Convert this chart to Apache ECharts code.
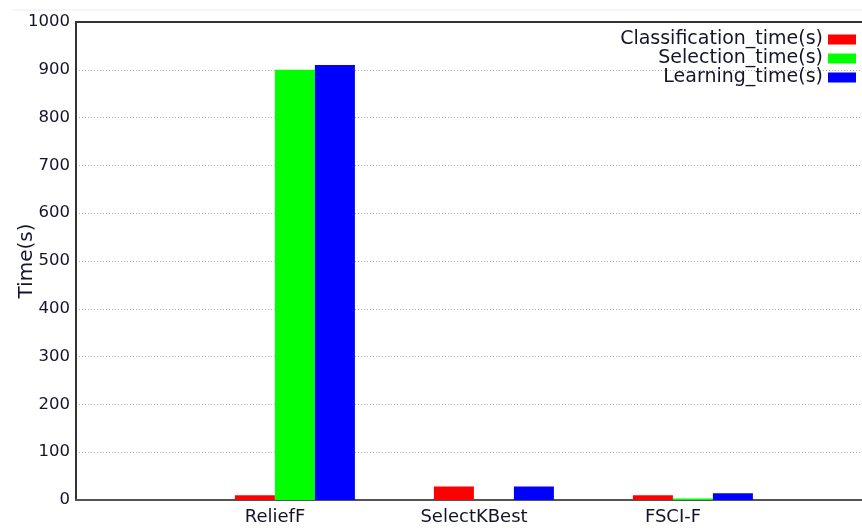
<!DOCTYPE html>
<html>
<head>
<meta charset="utf-8">
<script src="https://cdn.jsdelivr.net/npm/echarts@6/dist/echarts.min.js"></script>
<style>
  html, body { margin: 0; padding: 0; background: #fff; }
  #chart { width: 862px; height: 529px; }
</style>
</head>
<body>
<div id="chart"></div>
<script>
// methods on the x axis (placed at x = 1, 2, 3)
const methods = ['ReliefF', 'SelectKBest', 'FSCI-F'];
const seriesNames = ['Classification_time(s)', 'Selection_time(s)', 'Learning_time(s)'];
const classificationTime = [10, 28, 10];
const selectionTime = [900, 0, 3];
const learningTime = [910, 28, 14];
const yTicks = [0, 100, 200, 300, 400, 500, 600, 700, 800, 900, 1000];

const colors = ['#ff0000', '#00ff00', '#0000ff'];
const textColor = '#14142a';
const font = 'DejaVu Sans';

const toPoints = vals => vals.map((v, i) => [i + 1, v]);

const chart = echarts.init(document.getElementById('chart'));

const barSeries = [classificationTime, selectionTime, learningTime].map((vals, i) => ({
  name: seriesNames[i],
  type: 'bar',
  xAxisIndex: 1,
  data: toPoints(vals),
  barWidth: 40,
  barGap: '0%',
  itemStyle: { color: colors[i] },
  emphasis: { disabled: true },
  silent: true,
}));

const option = {
  backgroundColor: '#ffffff',
  animation: false,
  color: colors,
  textStyle: { fontFamily: font, color: textColor },
  grid: {
    left: 76,
    top: 22,
    right: -10,
    bottom: 29,
    outerBoundsMode: 'none',
    containLabel: false,
    show: true,
    borderWidth: 0,
    backgroundColor: '#ffffff',
  },
  legend: {
    orient: 'vertical',
    right: 1,
    top: 25,
    align: 'right',
    icon: 'rect',
    itemWidth: 28,
    itemHeight: 10,
    itemGap: 0,
    selectedMode: false,
    textStyle: { fontFamily: font, fontSize: 19, color: textColor },
    data: seriesNames,
  },
  xAxis: [
    {
      type: 'value',
      min: 0,
      max: 4,
      interval: 1,
      axisLine: { show: true, onZero: false, lineStyle: { color: '#555', width: 2 } },
      axisTick: { show: false },
      splitLine: { show: false },
      axisLabel: {
        fontFamily: font,
        fontSize: 18,
        color: textColor,
        margin: 8,
        formatter: v => methods[v - 1] || '',
      },
    },
    {
      // same scale as the label axis, shifted so each group starts at its tick
      type: 'value',
      min: -0.1,
      max: 3.9,
      show: false,
    },
    {
      // top frame line
      type: 'value',
      position: 'top',
      min: 0,
      max: 4,
      axisLine: { show: true, lineStyle: { color: '#333', width: 2 } },
      axisTick: { show: false },
      axisLabel: { show: false },
      splitLine: { show: false },
    },
  ],
  yAxis: {
    type: 'value',
    min: yTicks[0],
    max: yTicks[yTicks.length - 1],
    interval: 100,
    name: 'Time(s)',
    nameLocation: 'middle',
    nameRotate: 90,
    nameGap: 39,
    nameMoveOverlap: false,
    nameTextStyle: { fontFamily: font, fontSize: 20, color: textColor },
    axisLine: { show: true, onZero: false, lineStyle: { color: '#333', width: 2 } },
    axisTick: { show: false },
    axisLabel: {
      fontFamily: font,
      fontSize: 16.5,
      color: textColor,
      margin: 6,
      formatter: v => String(v),
    },
    splitLine: { show: true, lineStyle: { color: '#b0b0b0', type: [1, 2], width: 1 } },
  },
  graphic: [
    {
      type: 'line',
      shape: { x1: 12, y1: 10, x2: 862, y2: 10 },
      style: { stroke: '#ececec', lineWidth: 1 },
      silent: true,
    },
  ],
  series: barSeries,
};

chart.setOption(option);
</script>
</body>
</html>
